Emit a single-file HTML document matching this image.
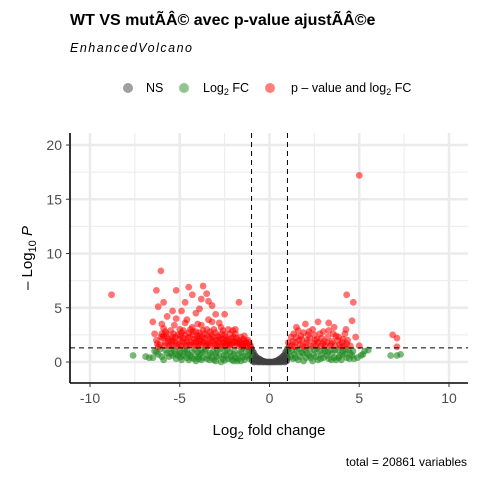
<!DOCTYPE html>
<html><head><meta charset="utf-8"><style>
body{margin:0;background:#fff;}
svg text{font-family:"Liberation Sans",Arial,sans-serif;}
</style></head><body>
<svg width="480" height="480" xmlns="http://www.w3.org/2000/svg">
<rect width="480" height="480" fill="#fff"/>
<text x="70" y="25" font-size="16" font-weight="bold">WT VS mutÃÂ© avec p-value ajustÃÂ©e</text>
<text x="70" y="52" font-size="12.5" font-style="italic" letter-spacing="1.5">EnhancedVolcano</text>
<g font-size="12.5">
<g><circle cx="128" cy="88" r="5" fill="#404040" fill-opacity="0.5"/><text x="146" y="92">NS</text></g>
<g><circle cx="184" cy="88" r="5" fill="#228B22" fill-opacity="0.5"/><text x="203" y="92">Log<tspan font-size="9" dy="3">2</tspan><tspan dy="-3"> FC</tspan></text></g>
<g><circle cx="270" cy="88" r="5" fill="#FF0000" fill-opacity="0.5"/><text x="291" y="92">p – value and log<tspan font-size="9" dy="3">2</tspan><tspan dy="-3"> FC</tspan></text></g>
</g>
<g id="grid"></g>
<g id="points"></g>
<g id="axes"></g>
<text x="269" y="435" text-anchor="middle" font-size="15">Log<tspan font-size="11" dy="4">2</tspan><tspan dy="-4"> fold change</tspan></text>
<text transform="translate(32,258) rotate(-90)" text-anchor="middle" font-size="15">– Log<tspan font-size="11" dy="4">10</tspan><tspan dy="-4" font-style="italic"> P</tspan></text>
<text x="467" y="466" text-anchor="end" font-size="12">total = 20861 variables</text>
</svg>
<script>
const xTicks=[-10,-5,0,5,10];
const yTicks=[0,5,10,15,20];
const xTickLabels=["-10","-5","0","5","10"];
const yTickLabels=["0","5","10","15","20"];
const fcCut=1;
const pCut=1.3;
const redPts=[[-6.3,2.0],[-6.1,1.6],[-6.0,2.6],[-5.9,3.1],[-5.8,1.8],[-5.7,2.3],[-5.6,1.5],[-5.5,2.9],[-5.4,2.0],[-5.3,3.4],[-5.2,1.7],[-5.1,2.5],[-5.0,3.0],[-4.9,1.5],[-4.8,2.2],[-4.7,3.6],[-4.6,1.9],[-4.5,2.7],[-4.4,1.6],[-4.3,3.2],[-4.2,2.1],[-4.1,2.8],[-4.0,1.5],[-3.9,2.4],[-3.8,3.4],[-3.7,1.8],[-3.6,2.6],[-3.5,3.0],[-3.4,1.6],[-3.3,2.2],[-3.2,3.7],[-3.1,1.9],[-3.0,2.7],[-2.9,1.5],[-2.8,2.3],[-2.7,3.2],[-2.6,1.7],[-2.5,2.5],[-2.4,2.0],[-2.3,3.0],[-2.2,1.5],[-2.1,2.2],[-2.0,1.8],[-1.9,2.6],[-1.8,1.5],[-1.7,2.0],[-1.6,1.6],[-1.5,1.4],[-1.4,1.7],[-1.3,1.5],[-1.2,1.4],[-1.1,1.6],
[-6.2,1.4],[-5.95,2.2],[-5.65,1.9],[-5.35,2.6],[-5.05,1.6],[-4.75,1.8],[-4.45,2.3],[-4.15,1.5],[-3.85,1.9],[-3.55,1.5],[-3.25,2.5],[-2.95,2.0],[-2.65,2.6],[-2.35,1.7],[-2.05,2.9],[-1.75,1.7],[-1.45,2.1],[-5.5,1.5],[-4.9,2.7],[-4.3,2.5],[-3.7,2.9],[-3.1,3.0],[-2.5,1.5],[-5.8,2.8],[-4.0,3.5],[-3.4,3.9],[-2.8,3.6],[-4.6,3.9],[-5.2,4.0],[-6.0,3.5],[-6.4,2.6],[-2.2,2.6],[-1.9,3.0],[-1.4,2.4],[-1.2,2.0],[-3.0,1.6],[-4.4,3.0],[-5.0,2.1],[-3.8,1.6],[-2.6,2.1],
[-6.25,1.7],[-6.05,2.3],[-5.85,1.5],[-5.75,2.6],[-5.45,1.8],[-5.25,2.3],[-5.15,1.45],[-4.95,2.4],[-4.85,1.9],[-4.65,1.5],[-4.55,2.2],[-4.35,1.8],[-4.25,2.8],[-4.05,2.2],[-3.95,1.7],[-3.75,2.3],[-3.65,1.9],[-3.45,2.4],[-3.35,1.8],[-3.15,2.3],[-3.05,1.45],[-2.85,1.8],[-2.75,2.1],[-2.55,1.8],[-2.45,2.3],[-2.25,1.9],[-2.15,1.6],[-1.95,1.9],[-1.85,2.2],[-1.65,1.85],[-1.55,1.7],[-1.35,1.9],[-1.15,1.8],[-1.05,1.45],[-5.6,2.1],[-5.3,1.9],[-4.8,2.9],[-4.2,1.8],[-3.9,2.1],[-3.6,2.2],[-3.3,1.5],[-2.9,2.4],[-2.7,1.5],[-2.4,1.6],[-2.0,2.3],[-1.6,2.3],[-5.9,2.4],[-4.5,1.6],[-3.5,1.7],[-2.3,2.1],[-1.8,1.8],[-1.3,1.8],[-4.1,1.9],[-3.2,2.0],[-2.1,1.7],[-1.5,1.55],[-4.7,2.5],[-3.9,2.7],[-3.3,2.8],[-2.6,2.9],[-5.4,2.3],[-4.0,2.4],
[-8.8,6.2],[-6.05,8.4],[-6.3,6.6],[-6.2,5.1],[-5.9,5.5],[-5.2,6.6],[-4.5,6.9],[-4.3,6.2],[-3.7,7.0],[-3.5,6.3],[-3.8,5.8],[-4.7,5.5],[-4.9,4.7],[-5.4,4.7],[-3.9,4.9],[-3.2,5.2],[-3.4,5.6],[-1.7,5.5],[-2.5,4.4],[-3.0,4.4],[-4.1,4.5],[-5.7,4.2],[-6.5,3.7],
[1.1,1.5],[1.3,1.9],[1.5,2.3],[1.7,1.6],[1.9,2.7],[2.1,2.0],[2.3,1.5],[2.5,2.5],[2.7,1.8],[2.9,2.2],[3.1,1.5],[3.3,2.9],[3.5,1.9],[3.7,2.4],[3.9,1.6],[4.1,2.1],[1.2,2.3],[1.6,2.9],[2.0,1.4],[2.4,3.0],[2.8,2.6],[3.2,1.8],[3.6,3.2],[4.0,1.4],[1.4,1.4],[1.8,2.1],[2.2,2.8],[2.6,1.5],[3.0,2.8],[3.4,1.5],[3.8,2.0],[4.3,1.7],[4.5,1.5],[4.2,2.6],[2.0,3.5],[3.3,3.6],[1.5,3.2],[2.7,3.7],
[1.05,1.8],[1.25,1.5],[1.45,1.8],[1.65,2.0],[1.85,1.5],[2.05,1.75],[2.25,2.2],[2.45,1.7],[2.65,2.1],[2.85,1.5],[3.05,1.9],[3.25,2.3],[3.45,1.7],[3.65,1.5],[3.85,2.3],[4.05,1.8],[4.35,2.0],[1.35,2.6],[1.75,2.4],[2.15,2.5],[2.55,2.0],[2.95,1.7],[3.55,2.6],[4.15,1.5],
[5.0,17.2],[4.3,6.2],[4.67,5.5],[4.6,3.8],[4.26,3.0],[4.8,2.3],[5.0,1.5],[6.86,2.5],[7.1,2.2],[7.1,1.4]];
const greenPts=[[-6.4,1.0],[-6.0,0.5],[-5.8,1.1],[-5.5,0.8],[-5.2,0.3],[-5.0,1.0],[-4.8,0.6],[-4.5,0.2],[-4.3,0.9],[-4.0,0.5],[-3.8,1.1],[-3.5,0.3],[-3.3,0.8],[-3.0,0.1],[-2.8,0.6],[-2.5,1.0],[-2.3,0.3],[-2.0,0.7],[-1.8,0.1],[-1.5,0.5],[-1.3,1.0],[-1.1,0.3],[-6.2,0.7],[-5.9,0.2],[-5.6,0.5],[-5.3,1.1],[-4.9,0.2],[-4.6,1.1],[-4.2,0.3],[-3.9,0.7],[-3.6,1.0],[-3.2,0.4],[-2.9,1.1],[-2.6,0.3],[-2.2,0.9],[-1.9,0.4],[-1.6,0.9],[-1.2,0.6],[-5.4,0.6],[-4.7,0.9],[-4.1,0.1],[-3.4,0.6],[-2.7,0.0],[-2.1,0.2],[-1.4,0.2],[-3.7,0.4],[-4.4,0.6],[-5.1,0.6],[-2.4,0.6],[-1.7,0.7],
[-6.3,0.9],[-6.1,1.2],[-5.7,0.8],[-5.45,1.2],[-5.25,0.75],[-4.95,0.45],[-4.75,1.2],[-4.55,0.75],[-4.35,0.4],[-4.15,1.15],[-3.95,0.3],[-3.75,0.85],[-3.55,1.2],[-3.35,0.2],[-3.15,0.95],[-2.95,0.5],[-2.75,1.2],[-2.55,0.6],[-2.35,1.1],[-2.15,0.5],[-1.95,1.0],[-1.75,0.3],[-1.55,1.2],[-1.35,0.5],[-1.15,1.1],[-1.05,0.7],[-5.0,0.8],[-4.0,0.9],[-3.0,0.8],[-2.0,0.1],[-3.1,0.2],[-2.5,0.15],[-1.6,0.1],[-3.8,0.2],[-4.6,0.4],
[-7.6,0.6],[-6.9,0.5],[-6.7,0.4],[-6.5,0.4],
[1.1,0.9],[1.3,0.3],[1.5,1.0],[1.7,0.5],[1.9,0.1],[2.1,0.8],[2.3,0.4],[2.5,1.1],[2.7,0.2],[2.9,0.7],[3.1,1.0],[3.3,0.3],[3.5,0.8],[3.7,0.2],[3.9,0.6],[4.1,1.0],[4.3,0.4],[4.5,0.8],[4.7,0.3],[1.2,0.5],[1.6,0.2],[2.0,1.1],[2.4,0.1],[2.8,1.0],[3.2,0.6],[3.6,0.4],[4.0,0.2],[4.4,1.1],[1.4,0.7],[2.2,0.6],[3.0,0.4],[3.8,1.1],[4.6,0.6],
[1.05,1.2],[1.25,1.1],[1.45,0.4],[1.65,1.2],[1.85,0.8],[2.05,0.4],[2.25,1.2],[2.45,0.7],[2.65,1.2],[2.85,0.3],[3.05,1.2],[3.25,0.9],[3.45,0.2],[3.65,1.1],[3.85,0.4],[4.05,0.8],[4.25,1.2],[4.45,0.3],[4.65,1.0],[1.8,0.9],[2.6,0.5],[3.4,1.1],[4.2,0.7],
[4.9,0.4],[5.1,0.6],[5.3,1.0],[5.5,1.1],[5.2,0.7],[6.75,0.6],[7.1,0.6],[7.3,0.7]];
const greyPts=[[-1.0,1.2],[-0.9,0.9],[-0.8,0.6],[-0.7,0.4],[-0.6,0.3],[-0.5,0.2],[-0.4,0.1],[-0.3,0.05],[-0.2,0.0],[-0.1,0.0],[0,0],[0.1,0],[0.2,0.0],[0.3,0.05],[0.4,0.1],[0.5,0.2],[0.6,0.3],[0.7,0.45],[0.8,0.6],[0.9,0.9],[1.0,1.2],[-0.9,0.4],[-0.7,0.1],[-0.5,0.0],[0.5,0.0],[0.7,0.1],[0.9,0.4],[-0.95,0.1],[0.95,0.1],[-0.8,0.2],[0.8,0.2],[-0.95,0.7],[0.95,0.7],[-0.85,0.0],[0.85,0.0],[-0.65,0.0],[0.65,0.0],[-0.35,0.0],[0.35,0.0],[-0.6,0.15],[0.6,0.15],[-1.0,0.4],[1.0,0.4]];

const NS="http://www.w3.org/2000/svg";
const L=70,R=468,T=133,B=383;
function sx(v){return 269.5+17.95*v;}
function sy(v){return 362-10.85*v;}
function mk(tag,attrs,parent){const e=document.createElementNS(NS,tag);for(const k in attrs)e.setAttribute(k,attrs[k]);parent.appendChild(e);return e;}
const grid=document.getElementById('grid');
for(let i=0;i<xTicks.length-1;i++){const m=(xTicks[i]+xTicks[i+1])/2;const g=mk('line',{x1:sx(m),x2:sx(m),y1:T,y2:B,stroke:'#ebebeb','stroke-width':1},grid);

}
for(let i=0;i<yTicks.length-1;i++){const m=(yTicks[i]+yTicks[i+1])/2;const g=mk('line',{x1:L,x2:R,y1:sy(m),y2:sy(m),stroke:'#ebebeb','stroke-width':1},grid);

}
xTicks.forEach(v=>{const g=mk('line',{x1:sx(v),x2:sx(v),y1:T,y2:B,stroke:'#ebebeb','stroke-width':2.5},grid);

});
yTicks.forEach(v=>{const g=mk('line',{x1:L,x2:R,y1:sy(v),y2:sy(v),stroke:'#ebebeb','stroke-width':2.5},grid);

});
const pts=document.getElementById('points');
function draw(arr,color,op,name){arr.forEach(p=>{const c=mk('circle',{cx:sx(p[0]),cy:sy(p[1]),r:3.4,fill:color,'fill-opacity':op},pts);

});}
draw(greyPts,'#404040',0.8,'ns-point');
draw(greenPts,'#228B22',0.6,'log2fc-point');
draw(redPts,'#FF0000',0.55,'pvalue-log2fc-point');
const ax=document.getElementById('axes');
[-fcCut,fcCut].forEach(v=>{const l=mk('line',{x1:sx(v),x2:sx(v),y1:T,y2:B,stroke:'#000','stroke-width':1,'stroke-dasharray':'5,4'},ax);

});
const hl=mk('line',{x1:L,x2:R,y1:sy(pCut),y2:sy(pCut),stroke:'#000','stroke-width':1,'stroke-dasharray':'5,4'},ax);


const xl=mk('line',{x1:L,x2:R,y1:B,y2:B,stroke:'#000','stroke-width':1.6},ax);


const yl=mk('line',{x1:L,x2:L,y1:T,y2:B,stroke:'#000','stroke-width':1.6},ax);


xTicks.forEach((v,i)=>{const t=mk('line',{x1:sx(v),x2:sx(v),y1:B,y2:B+4,stroke:'#333','stroke-width':1},ax);


const tx=mk('text',{x:sx(v),y:B+20,'text-anchor':'middle','font-size':14,fill:'#4d4d4d'},ax);tx.textContent=xTickLabels[i];

});
yTicks.forEach((v,i)=>{const t=mk('line',{x1:L-4,x2:L,y1:sy(v),y2:sy(v),stroke:'#333','stroke-width':1},ax);


const tx=mk('text',{x:L-8,y:sy(v)+5,'text-anchor':'end','font-size':14,fill:'#4d4d4d'},ax);tx.textContent=yTickLabels[i];

});
</script>
</body></html>
